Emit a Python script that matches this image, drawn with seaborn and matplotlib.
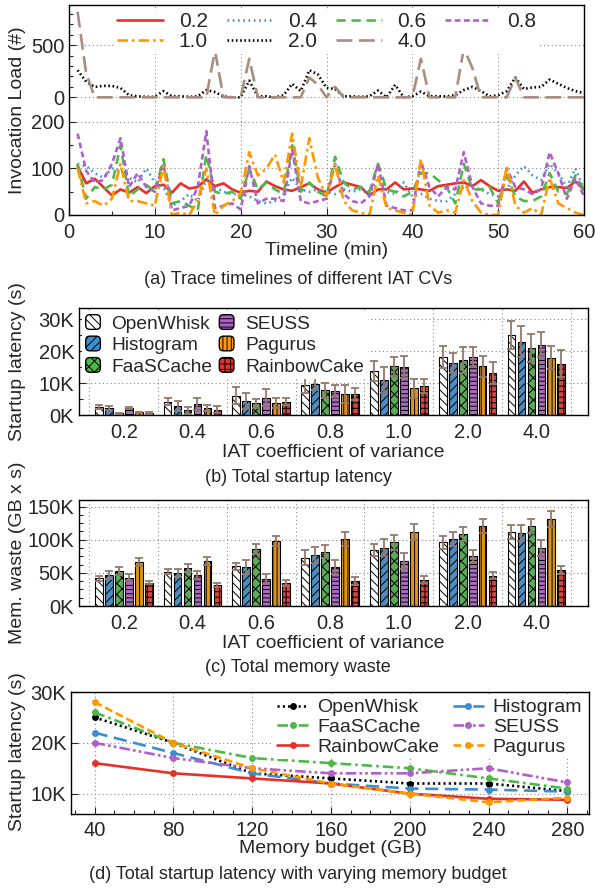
import matplotlib
matplotlib.use("Agg")
import matplotlib.pyplot as plt
import seaborn as sns
import pandas as pd
from matplotlib.patches import Rectangle, FancyBboxPatch
from matplotlib.legend_handler import HandlerPatch
from matplotlib.lines import Line2D
from matplotlib.ticker import MultipleLocator, FuncFormatter

# ---------------- data ----------------
minutes = list(range(1, 61))
load_02 = [105, 68, 78, 60, 42, 55, 48, 60, 47, 62, 65, 48, 68, 57, 60, 77, 62, 68, 55, 48,
           52, 50, 72, 62, 55, 52, 60, 68, 55, 48, 60, 70, 65, 60, 42, 55, 55, 70, 55, 57,
           55, 52, 62, 65, 68, 70, 62, 75, 62, 52, 55, 52, 72, 48, 55, 60, 60, 58, 72, 55]
load_04 = [110, 105, 90, 80, 100, 95, 80, 70, 100, 70, 60, 20, 30, 45, 30, 75, 60, 50, 45, 45,
           40, 30, 25, 30, 45, 80, 55, 50, 55, 50, 45, 55, 50, 55, 45, 80, 50, 45, 70, 40,
           45, 35, 30, 30, 45, 60, 60, 55, 45, 40, 55, 85, 105, 85, 75, 110, 90, 60, 100, 55]
load_06 = [110, 35, 60, 55, 65, 150, 40, 55, 65, 50, 120, 25, 30, 20, 10, 130, 50, 45, 50, 35,
           100, 55, 70, 55, 45, 150, 50, 70, 50, 40, 125, 70, 55, 60, 50, 110, 55, 50, 40, 50,
           90, 90, 75, 60, 25, 110, 55, 55, 60, 25, 85, 40, 30, 30, 40, 90, 50, 45, 85, 55]
load_08 = [175, 95, 70, 75, 110, 165, 60, 90, 60, 50, 110, 10, 15, 20, 60, 180, 15, 20, 25, 12,
           105, 25, 35, 35, 30, 140, 30, 25, 30, 35, 110, 45, 30, 25, 40, 110, 20, 15, 10, 10,
           115, 60, 40, 60, 55, 135, 60, 25, 20, 20, 100, 60, 55, 45, 55, 135, 90, 35, 80, 40]
load_10 = [100, 25, 30, 20, 35, 110, 30, 30, 25, 20, 105, 0, 5, 0, 30, 100, 0, 20, 30, 45,
           135, 85, 100, 130, 70, 175, 60, 165, 80, 40, 110, 30, 10, 5, 0, 85, 15, 10, 5, 0,
           120, 20, 5, 10, 5, 75, 30, 5, 0, 0, 105, 20, 5, 15, 0, 80, 25, 15, 5, 0]
load_20 = [260, 150, 100, 110, 110, 90, 20, 10, 5, 5, 60, 10, 10, 5, 10, 70, 50, 10, 0, 0,
           160, 10, 10, 0, 20, 130, 60, 260, 220, 90, 80, 10, 10, 5, 10, 65, 0, 120, 0, 10,
           55, 10, 10, 10, 20, 70, 100, 60, 10, 20, 60, 190, 80, 95, 100, 170, 130, 90, 60, 40]
load_40 = [820, 230, 0, 0, 0, 0, 0, 0, 0, 0, 0, 0, 0, 0, 0, 0, 450, 0, 0, 0,
           370, 0, 0, 0, 0, 0, 0, 190, 120, 0, 100, 0, 0, 0, 0, 0, 0, 0, 0, 0,
           370, 0, 0, 0, 0, 470, 280, 0, 0, 0, 0, 190, 0, 0, 0, 0, 0, 0, 0, 0]

cvs = ["0.2", "0.4", "0.6", "0.8", "1.0", "2.0", "4.0"]
systems = ["OpenWhisk", "Histogram", "FaaSCache", "SEUSS", "Pagurus", "RainbowCake"]

# total startup latency (s) and error
lat_openwhisk = [2500, 4200, 6000, 9300, 13700, 18200, 25100]
lat_histogram = [2200, 2800, 4400, 9800, 11000, 16200, 23000]
lat_faascache = [500, 1500, 3700, 7700, 15300, 17200, 21000]
lat_seuss = [2200, 3400, 5400, 7500, 15000, 18100, 22000]
lat_pagurus = [800, 2100, 3800, 6600, 8300, 15200, 18000]
lat_rainbowcake = [600, 1700, 4100, 6600, 9100, 13100, 16000]
lat_err_openwhisk = [500, 1100, 2700, 2400, 3200, 3500, 4400]
lat_err_histogram = [700, 1600, 2600, 1900, 4100, 3200, 4900]
lat_err_faascache = [200, 1100, 1400, 2300, 3000, 4000, 4500]
lat_err_seuss = [400, 1800, 2600, 1800, 3500, 3200, 3900]
lat_err_pagurus = [200, 900, 1600, 2900, 3100, 3300, 3700]
lat_err_rainbowcake = [200, 1100, 1100, 1900, 2200, 3500, 4200]

# total memory waste (GB x s) and error
mem_openwhisk = [42000, 52000, 60000, 73000, 85000, 96000, 112000]
mem_histogram = [47000, 50000, 59000, 77000, 88000, 101000, 110000]
mem_faascache = [53000, 57000, 86000, 82000, 96000, 109000, 121000]
mem_seuss = [43000, 47000, 41000, 59000, 68000, 75000, 88000]
mem_pagurus = [67000, 68000, 98000, 101000, 112000, 121000, 132000]
mem_rainbowcake = [35000, 31000, 35000, 38000, 40000, 46000, 55000]
mem_err_openwhisk = [4000, 4000, 5000, 11000, 9000, 10000, 11000]
mem_err_histogram = [6000, 6000, 10000, 12000, 13000, 10000, 12000]
mem_err_faascache = [6000, 6000, 8000, 10000, 11000, 11000, 11000]
mem_err_seuss = [6000, 6000, 8000, 10000, 12000, 10000, 12000]
mem_err_pagurus = [6000, 6000, 8000, 10000, 12000, 11000, 12000]
mem_err_rainbowcake = [2000, 3000, 5000, 6000, 6000, 5000, 6000]

# startup latency vs memory budget
budget = [40, 80, 120, 160, 200, 240, 280]
bud_openwhisk = [25000, 20000, 14000, 13000, 12000, 12000, 10500]
bud_histogram = [22000, 18000, 14000, 12000, 11000, 10800, 10400]
bud_faascache = [26000, 20000, 17000, 16000, 15000, 13000, 11000]
bud_seuss = [20000, 17000, 15000, 14000, 14000, 15000, 12200]
bud_rainbowcake = [16000, 14000, 13000, 12000, 10000, 9000, 8800]
bud_pagurus = [28000, 20000, 15000, 12000, 10000, 8300, 9200]

# ---------------- style ----------------
sns.set_style("ticks")
plt.rcParams['font.family'] = ['Liberation Sans', 'DejaVu Sans']
plt.rcParams['hatch.linewidth'] = 0.7
plt.rcParams['hatch.color'] = 'black'

FS_TICK = 14.5
FS_LAB = 14
FS_CAP = 13
GRID = dict(color='#888888', linestyle=(0, (1, 2.5)), linewidth=0.8)

sys_colors = {"OpenWhisk": "white", "Histogram": "#3a8fd0", "FaaSCache": "#4fb84a",
              "SEUSS": "#b060c8", "Pagurus": "#ff9900", "RainbowCake": "#e8302a"}
sys_hatch = {"OpenWhisk": "\\\\\\\\", "Histogram": "////", "FaaSCache": "xxx",
             "SEUSS": "----", "Pagurus": "||||", "RainbowCake": "+++"}
ERR_COLOR = "#94786c"

W, H = 596, 888
fig = plt.figure(figsize=(W / 100, H / 100), dpi=100)


def rect(left, top, right, bottom):
    return [left / W, 1 - bottom / H, (right - left) / W, (bottom - top) / H]


def kfmt(v, p):
    return f"{int(round(v / 1000))}K"


def style_ax(ax):
    for s in ax.spines.values():
        s.set_linewidth(1.0)
        s.set_color('black')
    ax.tick_params(direction='in', labelsize=FS_TICK, width=0.8, length=5)
    ax.tick_params(which='minor', direction='in', width=0.8, length=3)


def white_legend(leg):
    leg.get_frame().set_facecolor('white')
    leg.get_frame().set_edgecolor('none')
    leg.get_frame().set_alpha(1)


# ---------------- panel (a) ----------------
ax_top = fig.add_axes(rect(69, 5, 584, 101))
ax_bot = fig.add_axes(rect(69, 101, 584, 215))

series = [
    ("0.2", load_02, dict(color="#e8302a", linestyle="-")),
    ("0.4", load_04, dict(color="#3a8fd0", linestyle=(0, (0.6, 1.4)))),
    ("0.6", load_06, dict(color="#4fb84a", linestyle=(0, (3.5, 2.2)))),
    ("0.8", load_08, dict(color="#b060c8", linestyle=(0, (2.2, 1.3)))),
    ("1.0", load_10, dict(color="#ff9900", linestyle=(0, (4, 1.5, 1, 1.5)))),
    ("2.0", load_20, dict(color="black", linestyle=(0, (0.6, 1.0)))),
    ("4.0", load_40, dict(color="#a88e80", linestyle=(0, (6, 2.5)))),
]
LW_A = 1.9
handles_a = {}
for name, vals, st in series:
    target = ax_top if name in ("2.0", "4.0") else ax_bot
    sns.lineplot(x=minutes, y=vals, ax=target, lw=LW_A, legend=False, **st)
    handles_a[name] = Line2D([], [], lw=LW_A, **st)

for ax in (ax_top, ax_bot):
    style_ax(ax)
    ax.set_xlim(0, 60)
    ax.xaxis.set_major_locator(MultipleLocator(10))
    ax.xaxis.set_minor_locator(MultipleLocator(5))
    ax.grid(True, which='major', **GRID)
    ax.set_axisbelow(True)

ax_top.set_ylim(-35, 885)
ax_top.yaxis.set_major_locator(MultipleLocator(500))
ax_top.yaxis.set_minor_locator(MultipleLocator(100))
ax_top.spines['bottom'].set_visible(False)
ax_top.tick_params(axis='x', which='both', bottom=False, labelbottom=False)
ax_bot.set_ylim(0, 245)
ax_bot.yaxis.set_major_locator(MultipleLocator(100))
ax_bot.yaxis.set_minor_locator(MultipleLocator(50))
ax_bot.spines['top'].set_visible(False)
ax_bot.tick_params(axis='x', pad=6)
ax_bot.set_xlabel("Timeline (min)", fontsize=FS_LAB, labelpad=0)

order_a = ["0.2", "1.0", "0.4", "2.0", "0.6", "4.0", "0.8"]
leg = ax_top.legend([handles_a[k] for k in order_a], order_a, ncol=4, loc='upper center',
                    bbox_to_anchor=(0.5, 1.0), fontsize=15, handlelength=2.2,
                    handletextpad=0.75, columnspacing=0.9, labelspacing=0.05,
                    frameon=True, borderpad=0.15, borderaxespad=0.2)
white_legend(leg)

fig.text(18 / W, 1 - 110 / H, "Invocation Load (#)", rotation=90, ha='center', va='center',
         fontsize=FS_LAB)
fig.text(0.5, 1 - 279 / H, "(a) Trace timelines of different IAT CVs", ha='center',
         va='center', fontsize=FS_CAP)


# ---------------- bar panels ----------------
class RoundHandler(HandlerPatch):
    def create_artists(self, legend, orig_handle, xdescent, ydescent, width, height,
                       fontsize, trans):
        size = min(width, height)
        p = FancyBboxPatch((-xdescent, -ydescent), size, size,
                           boxstyle="round,pad=0,rounding_size=3",
                           facecolor=orig_handle.get_facecolor(), edgecolor='black',
                           hatch=orig_handle.get_hatch(), lw=1.0, transform=trans)
        return [p]


def bar_panel(ax, vals, errs, ylim, major, minor):
    rows = []
    for s in systems:
        for c, v in zip(cvs, vals[s]):
            rows.append({"cv": c, "system": s, "value": v})
    df = pd.DataFrame(rows)
    sns.barplot(data=df, x="cv", y="value", hue="system", order=cvs, hue_order=systems,
                palette=sys_colors, width=0.87, gap=0.22, edgecolor="black", linewidth=0.8,
                errorbar=None, legend=False, ax=ax, zorder=2)
    for cont, s in zip(ax.containers, systems):
        xs, ys = [], []
        for bar in cont:
            bar.set_hatch(sys_hatch[s])
            xs.append(bar.get_x() + bar.get_width() / 2)
            ys.append(bar.get_height())
        ax.errorbar(xs, ys, yerr=errs[s], fmt='none', ecolor=ERR_COLOR, elinewidth=1.3,
                    capsize=3, capthick=1.3, zorder=3)
    style_ax(ax)
    ax.set_xlim(-0.65, 6.75)
    ax.set_ylim(*ylim)
    ax.yaxis.set_major_locator(MultipleLocator(major))
    ax.yaxis.set_minor_locator(MultipleLocator(minor))
    ax.yaxis.set_major_formatter(FuncFormatter(kfmt))
    ax.tick_params(axis='x', which='both', length=0, pad=6)
    ax.grid(True, axis='y', **GRID)
    for b in range(len(cvs) + 1):
        ax.axvline(b - 0.5, zorder=0, **GRID)
    ax.set_axisbelow(True)
    ax.set_xlabel("IAT coefficient of variance", fontsize=FS_LAB, labelpad=1)
    ax.set_ylabel("")


ax_b = fig.add_axes(rect(79, 308, 588, 415))
bar_panel(ax_b,
          {"OpenWhisk": lat_openwhisk, "Histogram": lat_histogram, "FaaSCache": lat_faascache,
           "SEUSS": lat_seuss, "Pagurus": lat_pagurus, "RainbowCake": lat_rainbowcake},
          {"OpenWhisk": lat_err_openwhisk, "Histogram": lat_err_histogram,
           "FaaSCache": lat_err_faascache, "SEUSS": lat_err_seuss,
           "Pagurus": lat_err_pagurus, "RainbowCake": lat_err_rainbowcake},
          (0, 33500), 10000, 5000)
bar_handles = [Rectangle((0, 0), 1, 1, facecolor=sys_colors[s], hatch=sys_hatch[s],
                         edgecolor='black') for s in systems]
leg_b = ax_b.legend(bar_handles, systems, ncol=2, loc='upper left', bbox_to_anchor=(0, 1),
                    fontsize=13.8, handlelength=0.8, handleheight=0.8,
                    handletextpad=0.55, columnspacing=0.35, labelspacing=0.18,
                    frameon=True, borderpad=0.2, borderaxespad=0.15,
                    handler_map={Rectangle: RoundHandler()})
white_legend(leg_b)
fig.text(18 / W, 1 - 362 / H, "Startup latency (s)", rotation=90, ha='center', va='center',
         fontsize=FS_LAB)
fig.text(0.5, 1 - 477 / H, "(b) Total startup latency", ha='center', va='center',
         fontsize=FS_CAP)

ax_c = fig.add_axes(rect(79, 500, 588, 606))
bar_panel(ax_c,
          {"OpenWhisk": mem_openwhisk, "Histogram": mem_histogram, "FaaSCache": mem_faascache,
           "SEUSS": mem_seuss, "Pagurus": mem_pagurus, "RainbowCake": mem_rainbowcake},
          {"OpenWhisk": mem_err_openwhisk, "Histogram": mem_err_histogram,
           "FaaSCache": mem_err_faascache, "SEUSS": mem_err_seuss,
           "Pagurus": mem_err_pagurus, "RainbowCake": mem_err_rainbowcake},
          (0, 160000), 50000, 12500)
fig.text(18 / W, 1 - 553 / H, "Mem. waste (GB x s)", rotation=90, ha='center', va='center',
         fontsize=FS_LAB)
fig.text(0.5, 1 - 667 / H, "(c) Total memory waste", ha='center', va='center',
         fontsize=FS_CAP)

# ---------------- panel (d) ----------------
ax_d = fig.add_axes(rect(71, 692, 589, 814))
lines_d = [
    ("OpenWhisk", bud_openwhisk, dict(color="black", linestyle=(0, (0.8, 1.2)))),
    ("Histogram", bud_histogram, dict(color="#3a8fd0", linestyle=(0, (5, 2.5)))),
    ("FaaSCache", bud_faascache, dict(color="#4fb84a", linestyle=(0, (4, 1.5, 1, 1.5)))),
    ("SEUSS", bud_seuss, dict(color="#b060c8", linestyle=(0, (4, 1.2, 1, 1.2, 1, 1.2)))),
    ("RainbowCake", bud_rainbowcake, dict(color="#e8302a", linestyle="-")),
    ("Pagurus", bud_pagurus, dict(color="#ff9900", linestyle=(0, (3, 1.5)))),
]
handles_d = {}
for name, vals, st in lines_d:
    sns.lineplot(x=budget, y=vals, ax=ax_d, lw=1.9, marker='o', markersize=5,
                 markeredgewidth=0, legend=False, **st)
    handles_d[name] = Line2D([], [], lw=1.9, marker='o', markersize=5, markeredgewidth=0, **st)
style_ax(ax_d)
ax_d.set_xlim(28, 291)
ax_d.set_ylim(6000, 30000)
ax_d.xaxis.set_major_locator(MultipleLocator(40))
ax_d.xaxis.set_minor_locator(MultipleLocator(10))
ax_d.yaxis.set_major_locator(MultipleLocator(10000))
ax_d.yaxis.set_major_formatter(FuncFormatter(kfmt))
ax_d.tick_params(axis='x', pad=5)
ax_d.grid(True, which='major', **GRID)
ax_d.set_axisbelow(True)
ax_d.set_xlabel("Memory budget (GB)", fontsize=FS_LAB, labelpad=0)
order_d = ["OpenWhisk", "FaaSCache", "RainbowCake", "Histogram", "SEUSS", "Pagurus"]
leg_d = ax_d.legend([handles_d[k] for k in order_d], order_d, ncol=2, loc='upper right',
                    bbox_to_anchor=(1, 1), fontsize=14, handlelength=1.6,
                    handletextpad=0.45, columnspacing=0.7, labelspacing=0.1,
                    frameon=True, borderpad=0.2, borderaxespad=0.15)
white_legend(leg_d)
fig.text(18 / W, 1 - 752 / H, "Startup latency (s)", rotation=90, ha='center', va='center',
         fontsize=FS_LAB)
fig.text(0.5, 1 - 874 / H, "(d) Total startup latency with varying memory budget",
         ha='center', va='center', fontsize=FS_CAP)

fig.savefig("out.png", dpi=100)
